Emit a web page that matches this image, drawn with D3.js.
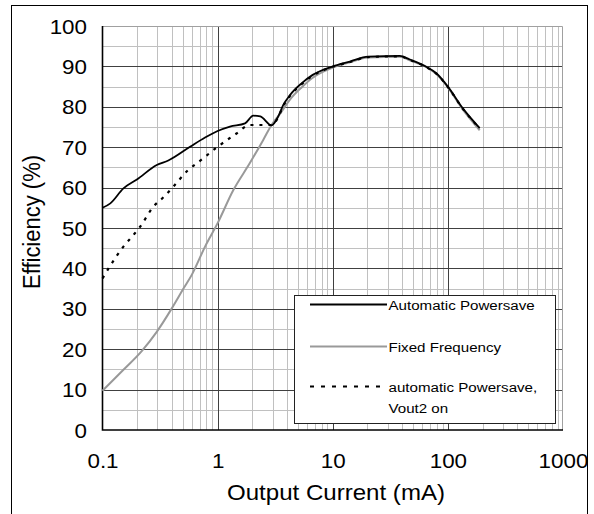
<!DOCTYPE html>
<html>
<head>
<meta charset="utf-8">
<script src="https://cdn.jsdelivr.net/npm/d3@7"></script>
<style>
  body { margin: 0; background: #fff; }
  text { font-family: Arial, "Liberation Sans", sans-serif; fill: #000; }
</style>
</head>
<body>
<svg id="chart"></svg>
<script>
// values (current in mA, efficiency in %)
const autoCurrent = [0.1, 0.117, 0.152, 0.199, 0.296, 0.373, 0.576, 0.778, 1.0, 1.28, 1.73, 2.04, 2.35, 2.94, 3.36, 3.71, 4.25, 5.36, 6.7, 9.77, 14.1, 20.3, 38.2, 46.7, 65, 79.4, 100, 135, 189];
const autoEff = [55.0, 56.1, 59.8, 62.0, 65.6, 66.7, 70.1, 72.4, 74.0, 75.1, 75.9, 77.8, 77.6, 75.4, 77.6, 80.4, 82.9, 85.8, 87.9, 89.9, 91.2, 92.4, 92.6, 91.7, 89.9, 88.3, 85.0, 79.6, 74.7];

const fixedCurrent = [0.1, 0.152, 0.22, 0.296, 0.4, 0.505, 0.596, 0.778, 1.0, 1.37, 1.9, 2.49, 2.94, 3.47, 4.25, 5.36, 6.7, 9.77, 14.1, 20.3, 38.2, 46.7, 65, 79.4, 100, 135, 189];
const fixedEff = [9.7, 14.9, 19.6, 24.3, 30.1, 35.0, 38.4, 45.4, 51.2, 59.4, 66.0, 71.8, 75.5, 78.2, 81.8, 84.8, 87.2, 89.6, 91.0, 92.2, 92.4, 91.5, 89.8, 88.1, 84.8, 79.3, 74.2];

const vout2Current = [0.1, 0.117, 0.152, 0.186, 0.212, 0.277, 0.338, 0.4, 0.557, 0.68, 1.0, 1.46, 1.9, 2.4, 2.94, 3.36, 3.71, 4.25, 5.36, 6.7, 9.77, 14.1, 20.3, 38.2, 46.7, 65, 79.4, 100, 135, 189];
const vout2Eff = [37.5, 40.7, 45.4, 48.3, 50.3, 55.3, 57.6, 59.8, 64.4, 66.3, 70.1, 73.4, 75.5, 75.5, 75.5, 77.4, 80.2, 82.7, 85.6, 87.7, 89.8, 91.1, 92.3, 92.5, 91.6, 89.8, 88.2, 84.9, 79.5, 74.6];

const xTickValues = [0.1, 1, 10, 100, 1000];
const xTickLabels = ['0.1', '1', '10', '100', '1000'];
const yTickValues = [0, 10, 20, 30, 40, 50, 60, 70, 80, 90, 100];

const legendNames = ['Automatic Powersave', 'Fixed Frequency', 'automatic Powersave,', 'Vout2 on'];

const W = 594, H = 514;
const stretch = 1.12; // the original text is a bit wide

const svg = d3.select('#chart').attr('width', W).attr('height', H);

// outer frame
svg.append('rect')
  .attr('x', 11.5).attr('y', 5.5)
  .attr('width', 576).attr('height', 540)
  .attr('fill', 'none').attr('stroke', '#000').attr('stroke-width', 1);

const x = d3.scaleLog().domain([0.1, 1000]).range([102.5, 563]);
const y = d3.scaleLinear().domain([0, 100]).range([430, 26]);

// grid
const isMajor = v => Math.abs(Math.log10(v) - Math.round(Math.log10(v))) < 1e-6;
const g = svg.append('g');

g.selectAll('.vminor')
  .data(x.ticks().filter(v => !isMajor(v)))
  .join('line')
  .attr('x1', d => Math.round(x(d)) + 0.5).attr('x2', d => Math.round(x(d)) + 0.5)
  .attr('y1', y(100)).attr('y2', y(0))
  .attr('stroke', '#c0c0c0');

g.selectAll('.hminor')
  .data(d3.range(5, 100, 10))
  .join('line')
  .attr('x1', x(0.1)).attr('x2', x(1000))
  .attr('y1', d => Math.round(y(d)) + 0.5).attr('y2', d => Math.round(y(d)) + 0.5)
  .attr('stroke', '#c0c0c0');

g.selectAll('.hmajor')
  .data(yTickValues.slice(1, -1))
  .join('line')
  .attr('x1', x(0.1)).attr('x2', x(1000))
  .attr('y1', d => Math.round(y(d)) + 0.5).attr('y2', d => Math.round(y(d)) + 0.5)
  .attr('stroke', '#404040');

g.selectAll('.vmajor')
  .data(xTickValues.slice(1, -1))
  .join('line')
  .attr('x1', d => Math.round(x(d)) + 0.5).attr('x2', d => Math.round(x(d)) + 0.5)
  .attr('y1', y(100)).attr('y2', y(0))
  .attr('stroke', '#404040');

// top / right border (light), left / bottom axis (dark)
g.append('path')
  .attr('d', `M${x(0.1)},${y(100) + 0.5}H${x(1000) - 0.5}V${y(0)}`)
  .attr('fill', 'none').attr('stroke', '#a0a0a0');
g.append('path')
  .attr('d', `M${x(0.1)},${y(100)}V${y(0)}H${x(1000)}`)
  .attr('fill', 'none').attr('stroke', '#000').attr('stroke-width', 1.6);

// axes (labels only)
const xAxis = svg.append('g')
  .attr('transform', `translate(0, 461)`)
  .call(d3.axisBottom(x).tickValues(xTickValues).tickFormat((d, i) => xTickLabels[i]).tickSize(0).tickPadding(0));
xAxis.select('.domain').remove();
xAxis.selectAll('text')
  .attr('y', 0).attr('dy', '0.35em')
  .attr('transform', `scale(${stretch},1)`)
  .style('font-size', '20px').style('font-family', 'Arial, "Liberation Sans", sans-serif');

const yAxis = svg.append('g')
  .attr('transform', `translate(${x(0.1)}, 0)`)
  .call(d3.axisLeft(y).tickValues(yTickValues).tickSize(0).tickPadding(0));
yAxis.select('.domain').remove();
yAxis.selectAll('text')
  .attr('x', -15.5 / stretch).attr('dy', '0.35em')
  .attr('transform', `scale(${stretch},1)`)
  .style('font-size', '20px').style('font-family', 'Arial, "Liberation Sans", sans-serif');

// axis titles
svg.append('text')
  .attr('transform', `translate(336, 500) scale(${stretch},1)`)
  .attr('text-anchor', 'middle')
  .style('font-size', '21.5px')
  .text('Output Current (mA)');

svg.append('text')
  .attr('transform', `translate(40, 222) rotate(-90) scale(1,${stretch})`)
  .attr('text-anchor', 'middle')
  .style('font-size', '22px')
  .text('Efficiency (%)');

// curves
const line = d3.line()
  .x(d => x(d[0]))
  .y(d => y(d[1]))
  .curve(d3.curveMonotoneX);

const plot = svg.append('g');
plot.append('path')
  .datum(d3.zip(fixedCurrent, fixedEff))
  .attr('d', line)
  .attr('fill', 'none').attr('stroke', '#999').attr('stroke-width', 2);

plot.append('path')
  .datum(d3.zip(autoCurrent, autoEff))
  .attr('d', line)
  .attr('fill', 'none').attr('stroke', '#000').attr('stroke-width', 1.8);

plot.append('path')
  .datum(d3.zip(vout2Current, vout2Eff))
  .attr('d', line)
  .attr('fill', 'none').attr('stroke', '#000').attr('stroke-width', 2.2)
  .attr('stroke-dasharray', '3,6');

// legend
const lg = svg.append('g');
lg.append('rect')
  .attr('x', 294.5).attr('y', 295.5)
  .attr('width', 261).attr('height', 128)
  .attr('fill', '#fff').attr('stroke', '#222');

const legendItems = [
  { y: 304.5, color: '#000', dash: null, w: 1.8 },
  { y: 346.5, color: '#999', dash: null, w: 2 },
  { y: 386.5, color: '#000', dash: '4,7', w: 2 }
];
lg.selectAll('.lline')
  .data(legendItems)
  .join('line')
  .attr('x1', 310).attr('x2', 387)
  .attr('y1', d => d.y).attr('y2', d => d.y)
  .attr('stroke', d => d.color)
  .attr('stroke-width', d => d.w)
  .attr('stroke-dasharray', d => d.dash);

const legendTextY = [309.5, 351.5, 392, 412.5];
lg.selectAll('.ltext')
  .data(legendNames)
  .join('text')
  .attr('transform', (d, i) => `translate(388.5, ${legendTextY[i]}) scale(${stretch},1)`)
  .style('font-size', '13.5px')
  .text(d => d);
</script>
</body>
</html>
